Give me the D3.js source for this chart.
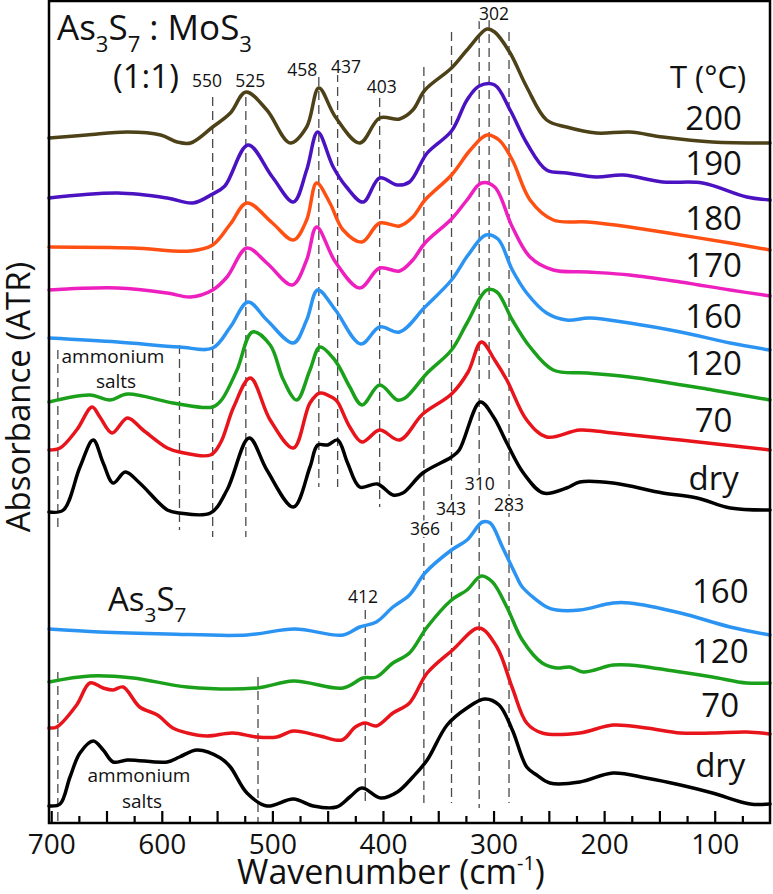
<!DOCTYPE html>
<html>
<head>
<meta charset="utf-8">
<script src="https://cdn.jsdelivr.net/npm/d3@7"></script>
<style>
  body { margin: 0; background: #fff; }
  svg text { font-family: "Open Sans", sans-serif; fill: #111; }
</style>
</head>
<body>
<svg id="chart" width="773" height="894"></svg>
<script>

// spectra: [wavenumber (cm-1), stacked absorbance]
// As3S7 : MoS3 (1:1) series
let mix200 = [[702,6.85],[668,6.88],[631,6.91],[601,6.88],[586,6.81],[574,6.80],[554,6.96],[538,7.10],[524,7.31],[505,7.13],[484,6.80],[469,6.96],[458,7.35],[443,7.06],[421,6.80],[403,7.05],[385,7.04],[373,7.13],[362,7.33],[338,7.55],[324,7.73],[306,7.94],[299,7.91],[285,7.70],[270,7.36],[252,7.03],[234,6.96],[207,6.90],[177,6.91],[147,6.86],[102,6.81],[50,6.80]];
let mix190 = [[702,6.25],[640,6.30],[595,6.25],[572,6.20],[554,6.29],[543,6.37],[522,6.78],[500,6.46],[481,6.21],[469,6.53],[459,6.91],[445,6.56],[433,6.36],[418,6.21],[403,6.45],[387,6.38],[376,6.41],[360,6.70],[338,6.92],[324,7.23],[313,7.37],[299,7.38],[285,7.13],[270,6.80],[252,6.53],[234,6.50],[207,6.46],[183,6.48],[147,6.41],[111,6.40],[71,6.26],[50,6.23]];
let mix180 = [[702,5.76],[626,5.75],[574,5.72],[554,5.78],[538,5.99],[523,6.20],[500,6.00],[481,5.83],[469,6.03],[460,6.40],[448,6.20],[436,5.93],[419,5.81],[403,6.00],[385,5.97],[373,6.06],[362,6.23],[338,6.48],[321,6.73],[306,6.88],[295,6.83],[283,6.63],[267,6.23],[246,6.03],[215,6.01],[177,5.96],[131,5.88],[86,5.80],[50,5.73]];
let mix170 = [[702,5.33],[640,5.35],[595,5.30],[574,5.26],[554,5.33],[541,5.46],[523,5.75],[505,5.60],[482,5.38],[469,5.63],[460,5.96],[443,5.61],[421,5.35],[403,5.55],[385,5.52],[373,5.63],[362,5.80],[338,6.04],[324,6.23],[311,6.40],[299,6.36],[283,5.96],[267,5.66],[246,5.53],[215,5.51],[177,5.48],[131,5.41],[86,5.33],[50,5.27]];
let mix160 = [[702,4.85],[640,4.81],[584,4.76],[554,4.75],[538,4.96],[522,5.21],[505,5.03],[481,4.80],[469,5.03],[459,5.33],[443,5.13],[420,4.79],[403,4.96],[385,4.91],[362,5.16],[338,5.43],[323,5.68],[307,5.88],[296,5.84],[283,5.53],[270,5.30],[252,5.10],[234,5.03],[213,5.05],[177,5.00],[131,4.91],[86,4.80],[50,4.73]];
let mix120 = [[702,4.21],[665,4.28],[647,4.23],[631,4.29],[590,4.20],[554,4.16],[546,4.23],[532,4.53],[518,4.91],[502,4.78],[490,4.43],[478,4.23],[466,4.53],[457,4.76],[445,4.65],[439,4.55],[430,4.36],[419,4.18],[403,4.38],[387,4.23],[380,4.25],[360,4.50],[338,4.73],[324,5.00],[306,5.33],[297,5.31],[283,5.03],[267,4.76],[246,4.53],[215,4.50],[177,4.46],[102,4.33],[50,4.23]];
let mix70 = [[702,3.73],[692,3.75],[677,3.93],[663,4.16],[656,4.06],[645,3.90],[631,4.05],[617,3.93],[595,3.75],[584,3.71],[556,3.68],[547,3.80],[535,4.16],[520,4.45],[502,4.03],[481,3.75],[466,4.20],[457,4.30],[445,4.25],[441,4.21],[430,3.96],[419,3.81],[403,3.93],[385,3.83],[364,4.09],[338,4.29],[323,4.51],[311,4.81],[299,4.63],[288,4.43],[270,4.03],[252,3.86],[222,3.93],[192,3.90],[131,3.83],[50,3.73]];
let mixDry = [[702,3.11],[689,3.13],[674,3.56],[662,3.83],[653,3.60],[644,3.40],[633,3.51],[620,3.40],[595,3.13],[584,3.10],[556,3.10],[541,3.33],[521,3.85],[505,3.53],[481,3.16],[466,3.56],[459,3.78],[450,3.78],[441,3.83],[432,3.60],[421,3.36],[405,3.39],[391,3.28],[382,3.30],[364,3.50],[338,3.66],[331,3.73],[312,4.21],[300,4.06],[288,3.80],[273,3.50],[255,3.30],[234,3.35],[222,3.41],[192,3.40],[147,3.30],[116,3.25],[86,3.15],[50,3.13]];

// As3S7 series
let as160 = [[702,1.94],[656,1.91],[595,1.89],[523,1.88],[480,1.94],[436,1.88],[421,1.96],[406,2.01],[391,2.16],[376,2.28],[362,2.50],[338,2.73],[324,2.83],[310,3.01],[303,3.00],[292,2.76],[279,2.46],[274,2.36],[252,2.16],[243,2.13],[222,2.13],[192,2.20],[177,2.20],[131,2.10],[86,1.96],[50,1.88]];
let as120 = [[702,1.41],[665,1.47],[626,1.45],[577,1.36],[514,1.35],[481,1.42],[436,1.35],[418,1.45],[406,1.46],[391,1.60],[376,1.70],[360,1.96],[338,2.23],[324,2.33],[311,2.47],[301,2.41],[288,2.16],[274,1.83],[256,1.60],[243,1.55],[231,1.56],[219,1.51],[192,1.58],[177,1.58],[131,1.51],[102,1.46],[71,1.40],[50,1.40]];
let as70 = [[702,0.95],[695,0.96],[677,1.18],[665,1.40],[653,1.35],[644,1.33],[635,1.36],[620,1.16],[604,1.08],[590,0.95],[577,0.90],[559,0.87],[536,0.90],[514,0.86],[496,0.86],[481,0.92],[457,0.87],[437,0.83],[425,0.96],[416,1.00],[406,0.97],[391,1.10],[376,1.20],[360,1.50],[337,1.73],[313,1.95],[297,1.76],[283,1.35],[270,1.00],[256,0.90],[222,0.90],[192,0.98],[162,0.95],[131,0.90],[102,0.90],[71,0.91],[50,0.89]];
let asDry = [[702,0.17],[692,0.19],[683,0.46],[674,0.70],[662,0.82],[653,0.73],[644,0.61],[631,0.63],[595,0.61],[584,0.66],[568,0.73],[547,0.65],[538,0.56],[523,0.30],[505,0.17],[481,0.24],[463,0.17],[442,0.16],[430,0.26],[419,0.35],[402,0.25],[387,0.31],[373,0.46],[360,0.63],[342,0.98],[324,1.15],[308,1.24],[295,1.18],[283,0.93],[270,0.56],[261,0.48],[249,0.40],[222,0.41],[192,0.50],[162,0.45],[131,0.38],[102,0.30],[68,0.19],[50,0.19]];

let mixSeries = [mix200, mix190, mix180, mix170, mix160, mix120, mix70, mixDry];
let mixColors = ["#4d4118", "#4b12c2", "#ff5014", "#ee1fbf", "#2b94f2", "#1ba01b", "#e8141c", "#000000"];
let asSeries  = [as160, as120, as70, asDry];
let asColors  = ["#2b94f2", "#1ba01b", "#e8141c", "#000000"];

// temperature labels: [text, wavenumber of centre, absorbance of baseline]
let mixTempLabels = [["T (°C)",106,7.35],["200",101,6.93],["190",101,6.48],["180",101,5.93],["170",101,5.46],["160",101,4.95],["120",101,4.48],["70",101,3.91],["dry",101,3.33]];
let asTempLabels  = [["160",95,2.20],["120",95,1.60],["70",95,1.06],["dry",95,0.46]];

// band positions: [label, wavenumber of centre, absorbance of baseline]
let bandLabels = [["550",559,7.36],["525",520,7.36],["458",473,7.47],["437",433.5,7.50],["403",401,7.30],["302",299.5,8.03],
                  ["366",362,2.88],["343",338.5,3.08],["310",312.5,3.33],["283",286,3.12],["412",418,2.20]];

// dashed marker lines: [wavenumber, top, bottom] in absorbance units
let dashLines = [[554,7.26,2.86],[524,7.26,2.86],[458,7.46,3.36],[441,7.50,3.36],[403,7.25,3.16],
                 [363,7.56,0.20],[338,7.91,0.20],[313,8.03,0.15],[304,8.03,4.43],[286,7.91,0.20],
                 [416,2.13,0.20],[513,1.46,0.01],[694,1.51,0.0],[694,4.73,2.96],[584,4.78,2.93]];

let majorTicks = [700,600,500,400,300,200,100];
let midTicks   = [650,550,450,350,250,150];
let minorTicks = [675,625,575,525,475,425,375,325,275,225,175,125,75];

let svg = d3.select("#chart");
let plotLeft = 49, plotRight = 770, plotTop = 1, plotBottom = 823;

let x = d3.scaleLinear().domain([702, 50]).range([plotLeft, plotRight]);
let y = d3.scaleLinear().domain([0, 8.22]).range([plotBottom, plotTop]);

// dashed guides go under the spectra
svg.append("g").selectAll("line")
  .data(dashLines)
  .enter().append("line")
    .attr("x1", d => x(d[0])).attr("x2", d => x(d[0]))
    .attr("y1", d => y(d[1])).attr("y2", d => y(d[2]))
    .attr("stroke", "#4a4a4a")
    .attr("stroke-width", 1.3)
    .attr("stroke-dasharray", "9,5");

let line = d3.line()
  .x(d => x(d[0]))
  .y(d => y(d[1]))
  .curve(d3.curveCatmullRom.alpha(0.5));

function drawSeries(series, colors) {
  svg.append("g").selectAll("path")
    .data(series)
    .enter().append("path")
      .attr("d", line)
      .attr("fill", "none")
      .attr("stroke", (d, i) => colors[i])
      .attr("stroke-width", 3.5)
      .attr("stroke-linejoin", "round")
      .attr("stroke-linecap", "round");
}
drawSeries(mixSeries, mixColors);
drawSeries(asSeries, asColors);

// frame
svg.append("rect")
  .attr("x", plotLeft).attr("y", plotTop)
  .attr("width", plotRight - plotLeft).attr("height", plotBottom - plotTop)
  .attr("fill", "none").attr("stroke", "#000").attr("stroke-width", 2.5);

// x axis, ticks point inwards
function tickAxis(values, size, labels) {
  let g = svg.append("g")
    .attr("transform", `translate(0,${plotBottom})`)
    .call(d3.axisBottom(x).tickValues(values).tickSize(-size).tickPadding(11)
      .tickFormat(d3.format("d")));
  g.select(".domain").remove();
  g.selectAll(".tick line").attr("stroke", "#000").attr("stroke-width", 2.2);
  if (!labels) {
    g.selectAll(".tick text").remove();
    return;
  }
  g.selectAll(".tick text")
    .attr("font-size", 28)
    .style("font-family", "'Open Sans', sans-serif")
    .attr("fill", "#111");
}
tickAxis(majorTicks, 12, true);
tickAxis(midTicks, 12, false);
tickAxis(minorTicks, 7, false);

// band labels
svg.append("g").selectAll("text")
  .data(bandLabels)
  .enter().append("text")
    .attr("x", d => x(d[1]))
    .attr("y", d => y(d[2]))
    .attr("text-anchor", "middle")
    .attr("font-size", 17.5)
    .attr("stroke", "#fff").attr("stroke-width", 4).attr("paint-order", "stroke")
    .text(d => d[0]);

// temperature labels
svg.append("g").selectAll("text")
  .data(mixTempLabels.concat(asTempLabels))
  .enter().append("text")
    .attr("x", d => x(d[1]))
    .attr("y", d => y(d[2]))
    .attr("text-anchor", "middle")
    .attr("font-size", d => d[0].length > 3 ? 31 : 33)
    .text(d => d[0]);

// compound names with subscripts
function formula(xp, yp, size, parts) {
  let t = svg.append("text").attr("x", xp).attr("y", yp).attr("font-size", size);
  let shift = 0;
  parts.forEach(p => {
    let sub = p[1];
    let s = t.append("tspan").text(p[0]);
    if (sub && shift === 0) { s.attr("dy", size * 0.34).attr("font-size", size * 0.63); shift = 1; }
    else if (!sub && shift === 1) { s.attr("dy", -size * 0.34); shift = 0; }
    else if (sub) { s.attr("font-size", size * 0.63); }
  });
}
formula(57, 40, 35, [["As",0],["3",1],["S",0],["7",1],[" : MoS",0],["3",1]]);
svg.append("text").attr("x", 113).attr("y", 88).attr("font-size", 33).text("(1:1)");
formula(108, 611, 33, [["As",0],["3",1],["S",0],["7",1]]);

// ammonium salts notes
let notes = [["ammonium",113,363],["salts",116,388],["ammonium",139,782],["salts",142,808]];
svg.append("g").selectAll("text")
  .data(notes)
  .enter().append("text")
    .attr("x", d => d[1]).attr("y", d => d[2])
    .attr("text-anchor", "middle")
    .attr("font-size", 19)
    .text(d => d[0]);

// axis titles
let xt = svg.append("text").attr("x", 237).attr("y", 884).attr("font-size", 34);
xt.append("tspan").text("Wavenumber (cm");
xt.append("tspan").attr("font-size", 20).attr("dy", -14).text("-1");
xt.append("tspan").attr("dy", 14).text(")");

svg.append("text")
  .attr("transform", "translate(30,397) rotate(-90)")
  .attr("text-anchor", "middle")
  .attr("font-size", 33)
  .text("Absorbance (ATR)");

</script>
</body>
</html>
